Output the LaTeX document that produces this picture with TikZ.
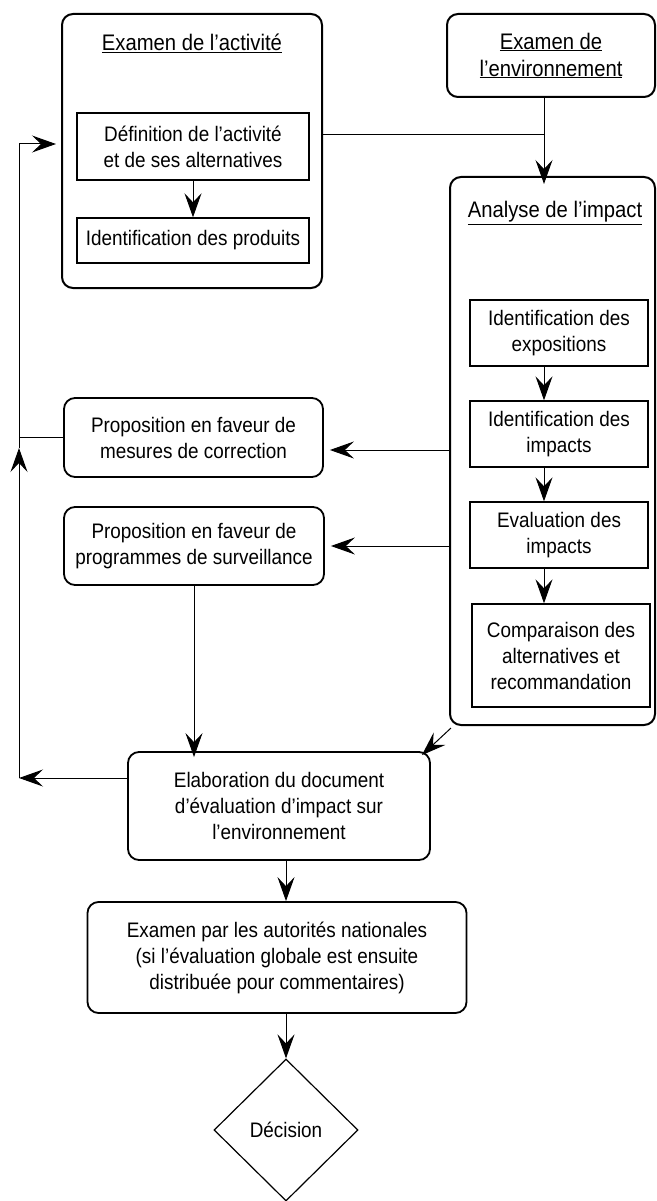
\documentclass[tikz,border=0pt]{standalone}
\usepackage{fontspec}
\setmainfont{Liberation Sans}[FakeStretch=0.9]
\usepackage{tikz}
\usetikzlibrary{positioning, arrows.meta, shapes.geometric, calc}

\begin{document}
\begin{tikzpicture}[x=1pt, y=-1pt,
    every node/.style={font=\fontsize{21}{26}\selectfont, inner sep=0pt},
    titre/.style={font=\fontsize{22.5}{27}\selectfont, align=center},
    grandcadre/.style={draw, line width=2pt, rounded corners=11pt},
    cadre/.style={draw, line width=1.8pt, rounded corners=11pt, align=center},
    petitcadre/.style={draw, line width=1.4pt, align=center},
    fleche/.style={-{Stealth[length=24pt, width=17pt, inset=9pt]}, line width=1pt},
    trait/.style={line width=1pt}]
  \useasboundingbox (0,0) rectangle (656,1201);
  % cadres englobants
  \node[grandcadre, minimum width=260pt, minimum height=274pt] (activite) at (192,151) {};
  \node[titre] (titreactivite) at (192,43) {\underline{Examen de l’activité}};
  \node[petitcadre, minimum width=232pt, minimum height=67pt] (definition) at (193,146.5) {Définition de l’activité\\et de ses alternatives};
  \node[petitcadre, minimum width=232pt, minimum height=45pt] (produits) at (193,240.5) {Identification des produits};

  \node[grandcadre, titre, minimum width=208pt, minimum height=83pt] (environnement) at (551,55.5) {\underline{Examen de}\\\underline{l’environnement}};

  \node[grandcadre, minimum width=205pt, minimum height=548pt] (analyse) at (552.5,451) {};
  \node[titre] (titreanalyse) at (555,213) {\underline{Analyse de l’impact}};
  \node[petitcadre, minimum width=178pt, minimum height=66pt] (expositions) at (559,333) {Identification des\\expositions};
  \node[petitcadre, minimum width=178pt, minimum height=66pt] (impacts) at (559,434) {Identification des\\impacts};
  \node[petitcadre, minimum width=178pt, minimum height=66pt] (evaluation) at (559,535) {Evaluation des\\impacts};
  \node[petitcadre, minimum width=178pt, minimum height=103pt] (comparaison) at (561,655.5) {Comparaison des\\alternatives et\\recommandation};

  % propositions et suite
  \node[cadre, minimum width=259pt, minimum height=79pt] (mesures) at (193.5,437.5) {Proposition en faveur de\\mesures de correction};
  \node[cadre, minimum width=260pt, minimum height=78pt] (programmes) at (194,546) {Proposition en faveur de\\programmes de surveillance};
  \node[cadre, minimum width=302pt, minimum height=108pt] (elaboration) at (279,806) {Elaboration du document\\d’évaluation d’impact sur\\l’environnement};
  \node[cadre, minimum width=379pt, minimum height=111pt] (autorites) at (277,957.5) {Examen par les autorités nationales\\(si l’évaluation globale est ensuite\\distribuée pour commentaires)};
  \node[diamond, draw, line width=1.2pt, minimum width=144pt, minimum height=142pt] (decision) at (286,1130) {Décision};

  % points de passage
  \coordinate (colonne) at (544,135);
  \coordinate (retour) at (19,778);
  \coordinate (coude) at (19,448);
  \coordinate (haut) at (19,144);

  % liaisons
  \draw[fleche] (definition) -- (produits);
  \draw[trait] (activite.east |- colonne) -- (colonne);
  \draw[fleche] (environnement.south -| colonne) -- ([yshift=-8pt]analyse.north -| colonne);
  \draw[fleche] (expositions.south -| colonne) -- (impacts.north -| colonne);
  \draw[fleche] (impacts.south -| colonne) -- (evaluation.north -| colonne);
  \draw[fleche] (evaluation.south -| colonne) -- (comparaison.north -| colonne);
  \draw[fleche] (analyse.west |- 0,450) -- ([xshift=6pt]mesures.east |- 0,450);
  \draw[fleche] (analyse.west |- programmes.east) -- ([xshift=6pt]programmes.east);
  \draw[fleche] (programmes.south) -- ([yshift=-6pt]programmes.south |- elaboration.north);
  \draw[fleche] ([shift={(2pt,-2pt)}]analyse.south west) -- ([shift={(-9pt,-4pt)}]elaboration.north east);
  \draw[fleche] (elaboration.west |- retour) -- (retour);
  \draw[trait] (mesures.west) -- (mesures.west -| retour);
  \draw[fleche] (retour) -- (coude);
  \draw[fleche] (coude) -- (haut) -- ([xshift=-5pt]activite.west |- haut);
  \draw[fleche] (elaboration.south -| decision) -- (autorites.north -| decision);
  \draw[fleche] (autorites.south -| decision) -- (decision.north);
\end{tikzpicture}
\end{document}
